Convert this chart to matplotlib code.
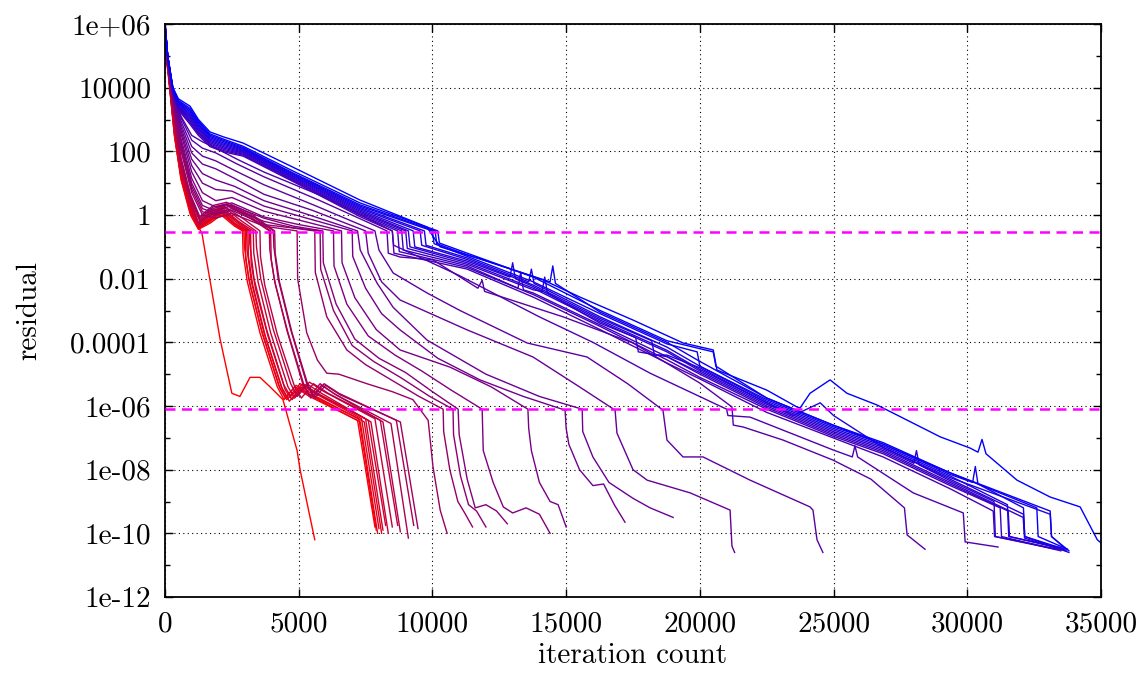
import numpy as np
import matplotlib.pyplot as plt
from matplotlib.ticker import FixedLocator, NullFormatter

plt.rcParams['font.family'] = 'cmr10'
plt.rcParams['axes.unicode_minus'] = False

# each run: (iteration, log10 residual) pairs
# ordered from the fastest (red) to the slowest (blue) run
run00 = [(0, 5.3), (120, 4.4), (370, 2.4), (600, 1.2), (1000, 0.0), (1380, -0.57), (2060, -3.9),
         (2500, -5.6), (2800, -5.7), (3180, -5.1), (3550, -5.1), (3930, -5.4), (4410, -5.8),
         (4940, -7.4), (5050, -8.0), (5600, -10.2)]

run01 = [(0, 5.3), (120, 4.5), (350, 2.5), (600, 1.1), (950, 0.0), (1250, -0.45), (1700, -0.25),
         (2100, 0.0), (2600, -0.35), (2900, -0.5), (2920, -1.2), (3080, -2.1), (3550, -3.7),
         (4200, -5.4), (4450, -5.8), (4850, -5.4), (5400, -5.7), (7200, -6.45), (7850, -9.8)]
run02 = [(0, 5.3), (120, 4.5), (350, 2.55), (600, 1.15), (950, 0.05), (1250, -0.43), (1700, -0.2),
         (2100, 0.05), (2600, -0.3), (2950, -0.5), (2970, -1.0), (3130, -2.0), (3600, -3.6),
         (4250, -5.35), (4500, -5.75), (4900, -5.35), (5450, -5.65), (7250, -6.4), (7900, -9.9)]
run03 = [(0, 5.3), (120, 4.52), (350, 2.6), (600, 1.2), (950, 0.1), (1250, -0.41), (1700, -0.18),
         (2100, 0.1), (2600, -0.3), (3000, -0.5), (3020, -1.4), (3180, -2.2), (3650, -3.75),
         (4300, -5.45), (4550, -5.8), (5000, -5.45), (5500, -5.7), (7300, -6.5), (7950, -10.0)]
run04 = [(0, 5.3), (120, 4.52), (350, 2.65), (600, 1.25), (950, 0.15), (1250, -0.39), (1700, -0.15),
         (2100, 0.12), (2600, -0.28), (3050, -0.5), (3070, -1.1), (3230, -2.1), (3700, -3.7),
         (4350, -5.4), (4600, -5.75), (5050, -5.3), (5600, -5.6), (7350, -6.4), (8000, -9.85)]
run05 = [(0, 5.3), (120, 4.54), (350, 2.7), (600, 1.3), (950, 0.2), (1250, -0.37), (1700, -0.12),
         (2100, 0.15), (2600, -0.25), (3100, -0.5), (3120, -1.3), (3280, -2.2), (3750, -3.8),
         (4400, -5.5), (4650, -5.85), (5100, -5.4), (5650, -5.7), (7450, -6.5), (8100, -10.0)]
run06 = [(0, 5.3), (120, 4.54), (350, 2.75), (600, 1.35), (950, 0.25), (1250, -0.35), (1700, -0.1),
         (2100, 0.18), (2650, -0.22), (3150, -0.5), (3170, -0.9), (3330, -2.0), (3800, -3.6),
         (4450, -5.35), (4700, -5.7), (5150, -5.3), (5700, -5.6), (7500, -6.4), (8150, -9.9)]
run07 = [(0, 5.3), (120, 4.56), (350, 2.8), (600, 1.4), (950, 0.3), (1250, -0.32), (1700, -0.05),
         (2100, 0.2), (2700, -0.2), (3200, -0.5), (3220, -1.5), (3380, -2.3), (3850, -3.8),
         (4500, -5.5), (4750, -5.8), (5200, -5.35), (5750, -5.65), (7600, -6.45), (8250, -9.75)]
run08 = [(0, 5.3), (120, 4.56), (350, 2.85), (600, 1.45), (950, 0.35), (1250, -0.3), (1700, 0.0),
         (2150, 0.22), (2750, -0.2), (3300, -0.5), (3320, -1.2), (3480, -2.1), (3950, -3.7),
         (4600, -5.4), (4850, -5.75), (5300, -5.3), (5850, -5.6), (7700, -6.5), (8350, -10.0)]
run09 = [(0, 5.3), (120, 4.58), (350, 2.9), (600, 1.5), (950, 0.4), (1250, -0.27), (1750, 0.05),
         (2200, 0.25), (2800, -0.15), (3400, -0.5), (3420, -1.0), (3580, -2.0), (4050, -3.6),
         (4700, -5.3), (4950, -5.7), (5400, -5.25), (5950, -5.55), (7850, -6.4), (8500, -9.8)]
run10 = [(0, 5.3), (120, 4.58), (350, 2.95), (600, 1.55), (950, 0.45), (1250, -0.24), (1750, 0.1),
         (2200, 0.28), (2900, -0.1), (3550, -0.5), (3570, -1.3), (3730, -2.2), (4200, -3.75),
         (4850, -5.4), (5100, -5.75), (5550, -5.3), (6100, -5.6), (8050, -6.45), (8700, -9.75)]
run11 = [(0, 5.3), (120, 4.6), (350, 3.0), (600, 1.6), (950, 0.5), (1300, -0.2), (1800, 0.15),
         (2300, 0.3), (3100, -0.05), (3900, -0.5), (3920, -1.1), (4080, -2.0), (4550, -3.6),
         (5150, -5.3), (5400, -5.7), (5800, -5.3), (6300, -5.6), (8150, -6.5), (8800, -9.95)]
run12 = [(0, 5.3), (120, 4.6), (350, 3.05), (600, 1.65), (950, 0.55), (1300, -0.15), (1800, 0.2),
         (2300, 0.32), (3100, 0.0), (3950, -0.5), (3970, -1.4), (4130, -2.2), (4600, -3.7),
         (5200, -5.35), (5450, -5.75), (5850, -5.35), (6400, -5.65), (8450, -6.55), (9100, -10.15)]
run13 = [(0, 5.3), (120, 4.62), (350, 3.1), (600, 1.7), (950, 0.6), (1300, -0.1), (1800, 0.25),
         (2300, 0.35), (3200, 0.0), (4050, -0.5), (4070, -1.0), (4230, -2.0), (4700, -3.6),
         (5300, -5.3), (5550, -5.7), (5950, -5.3), (6500, -5.6), (8650, -6.45), (9300, -9.75)]
run14 = [(0, 5.3), (120, 4.62), (350, 3.15), (600, 1.8), (950, 0.65), (1300, -0.05), (1800, 0.3),
         (2300, 0.4), (3200, 0.05), (4100, -0.5), (4120, -1.2), (4280, -2.1), (4750, -3.7),
         (5350, -5.35), (5600, -5.75), (6000, -5.35), (6550, -5.65), (8800, -6.5), (9460, -9.85)]

run15 = [(0, 5.35), (120, 4.64), (350, 3.2), (600, 2.0), (1000, 0.7), (1400, 0.0), (1900, -0.1),
         (2500, 0.05), (3700, -0.35), (4940, -0.5), (4960, -2.0), (5300, -3.7), (5700, -4.56),
         (6050, -4.97), (6500, -5.0), (7550, -5.3), (8500, -5.55), (9270, -5.8), (9840, -6.45),
         (10020, -7.9), (10290, -9.27), (10550, -10.0)]
run16 = [(0, 5.4), (120, 4.64), (350, 3.25), (600, 2.1), (1000, 0.8), (1400, 0.1), (1900, 0.0),
         (2500, 0.15), (3700, -0.3), (4700, -0.4), (5600, -0.5), (5620, -1.8), (6050, -3.2),
         (6800, -4.24), (7500, -4.7), (8500, -5.2), (9500, -5.7), (10400, -6.1), (10420, -6.8),
         (10650, -8.0), (10950, -9.0), (11200, -9.35), (11500, -9.8)]
run17 = [(0, 5.45), (120, 4.66), (350, 3.3), (600, 2.2), (1000, 0.9), (1400, 0.2), (1900, 0.05),
         (2500, 0.2), (3700, -0.2), (4800, -0.4), (5800, -0.5), (5820, -1.7), (6300, -3.0),
         (7000, -4.1), (7800, -4.6), (8800, -5.1), (9900, -5.7), (10770, -6.1), (10790, -6.9),
         (11050, -8.2), (11350, -9.1), (11650, -9.3), (12000, -9.8)]
run18 = [(0, 5.5), (120, 4.66), (350, 3.35), (600, 2.3), (1000, 1.0), (1400, 0.3), (1900, 0.12),
         (2500, 0.3), (3700, -0.1), (4800, -0.35), (5900, -0.5), (5920, -1.5), (6400, -2.8),
         (7100, -3.9), (8000, -4.5), (9000, -4.95), (10000, -5.55), (10960, -6.1), (11000, -6.9),
         (11300, -8.3), (11600, -9.2), (12000, -9.1), (12400, -9.3), (12800, -9.7)]
run19 = [(0, 5.55), (120, 4.68), (350, 3.4), (600, 2.4), (1000, 1.15), (1400, 0.45), (1900, 0.25),
         (2500, 0.38), (3700, -0.06), (5000, -0.3), (6300, -0.5), (6320, -1.6), (6800, -2.8),
         (7600, -3.8), (8600, -4.4), (9600, -4.9), (10700, -5.5), (11860, -6.1), (11900, -7.4),
         (12270, -8.4), (12650, -9.17), (13000, -9.36), (13500, -9.2), (14000, -9.4), (14400, -10.0)]
run20 = [(0, 5.6), (120, 4.68), (350, 3.45), (600, 2.55), (1000, 1.35), (1400, 0.7), (1900, 0.45),
         (2500, 0.55), (3700, 0.12), (5200, -0.2), (6600, -0.5), (6620, -1.5), (7100, -2.6),
         (7900, -3.6), (8790, -4.24), (10660, -4.78), (12200, -5.4), (13570, -6.1), (13600, -6.7),
         (13700, -7.4), (14000, -8.4), (14400, -9.0), (14700, -9.1), (15000, -9.8)]
run21 = [(0, 5.65), (120, 4.7), (350, 3.5), (600, 2.65), (1000, 1.55), (1400, 1.0), (1900, 0.8),
         (2500, 0.75), (3700, 0.28), (5300, -0.1), (7000, -0.5), (7020, -1.3), (7500, -2.3),
         (8100, -3.1), (8790, -3.61), (10200, -4.5), (11780, -5.18), (13400, -5.7), (14960, -6.13),
         (15000, -6.7), (15100, -7.2), (15500, -8.0), (16000, -8.5), (16400, -8.45), (16800, -9.1),
         (17200, -9.65)]
run22 = [(0, 5.7), (120, 4.72), (350, 3.55), (600, 2.75), (1000, 1.75), (1400, 1.3), (1900, 1.1),
         (2600, 0.9), (3700, 0.45), (5400, 0.0), (7200, -0.5), (7300, -1.1), (7930, -2.14),
         (8530, -2.9), (9800, -3.93), (12000, -5.0), (14000, -5.7), (15600, -6.1), (15620, -6.8),
         (16000, -7.6), (16600, -8.4), (17500, -8.9), (18140, -9.2), (19000, -9.5)]
run23 = [(0, 5.75), (120, 4.74), (350, 3.6), (600, 2.85), (1000, 1.95), (1400, 1.6), (1900, 1.45),
         (2600, 1.15), (3700, 0.65), (5500, 0.15), (7500, -0.5), (7600, -1.2), (8100, -2.1),
         (8790, -2.67), (11300, -3.61), (13760, -4.46), (15500, -5.4), (16830, -6.13), (16900, -6.85),
         (17500, -8.0), (18030, -8.33), (19640, -8.73), (21130, -9.27), (21200, -10.4), (21300, -10.6)]
run24 = [(0, 5.8), (120, 4.76), (350, 3.65), (600, 2.95), (1000, 2.15), (1400, 1.85), (1900, 1.7),
         (2600, 1.4), (3700, 0.95), (5600, 0.3), (7850, -0.5), (8000, -1.1), (8530, -1.82),
         (9800, -2.45), (11030, -3.0), (13540, -4.02), (15780, -4.46), (17300, -5.3), (18620, -6.13),
         (18770, -7.07), (19370, -7.6), (20120, -7.6), (21880, -8.33), (24120, -9.17), (24230, -9.27),
         (24380, -10.2), (24600, -10.6)]
run25 = [(0, 5.85), (120, 4.78), (350, 3.7), (600, 3.05), (1000, 2.35), (1400, 2.1), (1900, 1.95),
         (2700, 1.6), (3700, 1.2), (5800, 0.45), (8300, -0.5), (8350, -1.2), (8790, -1.32),
         (10020, -1.41), (11700, -2.3), (11860, -2.05), (11950, -2.4), (14890, -3.2), (17500, -4.02),
         (20000, -5.28), (21200, -6.03), (21250, -6.6), (21620, -6.66), (23110, -7.07), (24980, -7.7),
         (26400, -8.3), (27650, -9.2), (27750, -10.05), (28420, -10.5)]
run26 = [(0, 5.9), (120, 4.8), (350, 3.72), (600, 3.1), (1000, 2.5), (1400, 2.3), (1900, 2.1),
         (2700, 1.75), (3700, 1.35), (6000, 0.55), (8500, -0.5), (8550, -0.95), (11000, -1.9),
         (14000, -3.2), (16000, -4.0), (18140, -4.97), (21000, -6.1), (21050, -6.3), (21880, -6.35),
         (24980, -7.38), (25700, -7.6), (25800, -7.25), (25900, -7.6), (27980, -8.73), (29850, -9.36),
         (29920, -10.27), (31150, -10.43)]

run27 = [(0, 6.0), (100, 5.0), (300, 3.8), (500, 3.3), (935, 2.85), (1250, 2.5), (1680, 2.15),
         (2200, 1.98), (2920, 1.85), (4790, 1.05), (7290, -0.05), (8500, -0.5), (8560, -1.2),
         (11300, -1.7), (13770, -2.58), (16270, -3.6), (18770, -4.65), (20000, -5.15), (22500, -6.2),
         (24980, -7.0), (26850, -7.6), (29360, -8.6), (30970, -9.3), (31020, -10.1), (33300, -10.5)]
run28 = [(0, 6.0), (100, 5.0), (300, 3.82), (500, 3.33), (935, 2.9), (1250, 2.55), (1680, 2.19),
         (2200, 2.02), (2920, 1.88), (4790, 1.08), (7290, 0.0), (8700, -0.5), (8760, -1.15),
         (11300, -1.65), (13770, -2.5), (16270, -3.5), (18770, -4.55), (20000, -5.1), (22500, -6.1),
         (24980, -6.95), (26850, -7.5), (29360, -8.5), (31230, -9.2), (31280, -10.1), (33500, -10.55)]
run29 = [(0, 6.0), (100, 5.0), (300, 3.84), (500, 3.36), (935, 2.95), (1250, 2.59), (1680, 2.23),
         (2200, 2.06), (2920, 1.91), (4790, 1.11), (7290, 0.04), (8850, -0.5), (8910, -1.1),
         (11300, -1.6), (13200, -2.3), (13300, -1.8), (13400, -2.35), (13770, -2.45), (16270, -3.45),
         (18770, -4.45), (20000, -5.0), (22500, -6.05), (24980, -6.9), (26850, -7.45), (29360, -8.45),
         (31530, -9.3), (31580, -10.1), (33600, -10.5)]
run30 = [(0, 6.0), (100, 5.0), (300, 3.86), (500, 3.39), (935, 3.0), (1250, 2.64), (1680, 2.27),
         (2200, 2.1), (2920, 1.94), (4790, 1.14), (7290, 0.08), (9000, -0.5), (9060, -1.05),
         (11300, -1.55), (13770, -2.35), (14100, -2.4), (14200, -1.95), (14300, -2.45), (16270, -3.4),
         (17600, -3.85), (17700, -4.3), (18770, -4.45), (20000, -4.95), (22500, -6.0), (24980, -6.85),
         (26850, -7.4), (29360, -8.4), (32090, -9.5), (32140, -10.15), (33700, -10.55)]
run31 = [(0, 6.0), (100, 5.0), (300, 3.88), (500, 3.42), (935, 3.05), (1250, 2.68), (1680, 2.31),
         (2200, 2.14), (2920, 1.97), (4790, 1.17), (7290, 0.12), (9100, -0.5), (9160, -1.0),
         (11300, -1.5), (13770, -2.3), (16270, -3.35), (18770, -4.3), (20000, -4.9), (22500, -5.95),
         (24980, -6.8), (26850, -7.35), (28000, -7.8), (28100, -7.4), (28200, -7.85), (29360, -8.35),
         (31000, -9.0), (31050, -10.1), (33400, -10.5)]
run32 = [(0, 6.0), (100, 5.0), (300, 3.9), (500, 3.45), (935, 3.1), (1250, 2.73), (1680, 2.35),
         (2200, 2.18), (2920, 2.0), (4790, 1.2), (7290, 0.16), (9280, -0.5), (9340, -1.0),
         (11300, -1.45), (12900, -1.95), (13000, -1.5), (13100, -2.0), (13770, -2.25), (16270, -3.3),
         (18770, -4.25), (20000, -4.85), (22500, -5.9), (24980, -6.75), (26850, -7.3), (29360, -8.3),
         (32100, -9.4), (32150, -10.1), (33800, -10.6)]
run33 = [(0, 6.0), (100, 5.0), (300, 3.91), (500, 3.48), (935, 3.15), (1250, 2.77), (1680, 2.39),
         (2200, 2.22), (2920, 2.03), (4790, 1.23), (7290, 0.2), (9540, -0.5), (9600, -0.95),
         (11300, -1.4), (13770, -2.2), (16270, -3.25), (18200, -3.95), (18300, -4.4), (18770, -4.4),
         (20000, -4.8), (22500, -5.9), (23500, -6.3), (24500, -5.9), (25000, -6.3), (26850, -7.3),
         (29360, -8.25), (33100, -9.4), (33150, -10.1), (33700, -10.5)]
run34 = [(0, 6.0), (100, 5.0), (300, 3.92), (500, 3.51), (935, 3.2), (1250, 2.82), (1680, 2.43),
         (2200, 2.26), (2920, 2.06), (4790, 1.26), (7290, 0.24), (9700, -0.5), (9760, -0.95),
         (11300, -1.35), (13600, -2.1), (13700, -1.7), (13800, -2.15), (16270, -3.2), (18770, -4.15),
         (20000, -4.75), (22500, -5.85), (24980, -6.7), (26850, -7.25), (29360, -8.2), (31500, -9.1),
         (31550, -10.1), (33500, -10.45)]
run35 = [(0, 6.0), (100, 5.0), (300, 3.93), (500, 3.54), (935, 3.25), (1250, 2.86), (1680, 2.47),
         (2200, 2.3), (2920, 2.09), (4790, 1.29), (7290, 0.28), (10000, -0.5), (10060, -0.9),
         (11300, -1.3), (13770, -2.1), (16270, -3.1), (18770, -4.05), (19900, -4.3), (20000, -4.75),
         (22500, -5.8), (24980, -6.65), (26850, -7.2), (29360, -8.15), (30200, -8.4), (30300, -7.9),
         (30400, -8.45), (32100, -9.2), (32150, -10.1), (33650, -10.5)]
run36 = [(0, 6.0), (100, 5.0), (300, 3.94), (500, 3.57), (935, 3.3), (1250, 2.91), (1680, 2.51),
         (2200, 2.34), (2920, 2.12), (4790, 1.32), (7290, 0.32), (10100, -0.5), (10160, -0.9),
         (11300, -1.25), (14400, -2.1), (14500, -1.6), (14600, -2.15), (16270, -3.05), (18770, -4.0),
         (20000, -4.6), (22500, -5.75), (24980, -6.6), (26850, -7.2), (29360, -8.1), (33100, -9.3),
         (33150, -10.1), (33800, -10.55)]
run37 = [(0, 6.0), (100, 5.0), (300, 3.95), (500, 3.6), (935, 3.35), (1250, 2.95), (1680, 2.55),
         (2200, 2.38), (2920, 2.16), (4790, 1.38), (7290, 0.38), (10200, -0.5), (10260, -0.88),
         (11300, -1.2), (13770, -1.95), (16270, -3.0), (18770, -3.95), (20500, -4.3), (20600, -4.75),
         (22500, -5.75), (24980, -6.6), (26850, -7.15), (29360, -8.1), (32600, -9.2), (32650, -10.1),
         (33750, -10.5)]
run38 = [(0, 6.0), (100, 5.0), (300, 4.0), (500, 3.65), (935, 3.42), (1250, 3.0), (1680, 2.61),
         (2200, 2.45), (2920, 2.26), (4790, 1.5), (7290, 0.47), (9800, -0.38), (9910, -0.53),
         (10290, -1.0), (11900, -1.41), (14140, -2.04), (15520, -2.58), (17500, -3.3), (19370, -4.02),
         (20500, -4.24), (20640, -4.87), (22500, -5.5), (23630, -6.03), (23750, -6.06), (24120, -5.6),
         (24870, -5.18), (25500, -5.6), (26630, -5.97), (28990, -6.97), (30100, -7.32), (30400, -7.45),
         (30550, -7.05), (30700, -7.5), (31860, -8.33), (33100, -8.86), (34220, -9.17), (34860, -10.2),
         (35000, -10.3)]

runs = [run00, run01, run02, run03, run04, run05, run06, run07, run08, run09,
        run10, run11, run12, run13, run14, run15, run16, run17, run18, run19,
        run20, run21, run22, run23, run24, run25, run26, run27, run28, run29,
        run30, run31, run32, run33, run34, run35, run36, run37, run38]

tol_levels = [3e-1, 8e-7]

xticks = [0, 5000, 10000, 15000, 20000, 25000, 30000, 35000]
yticks = [1e-12, 1e-10, 1e-8, 1e-6, 1e-4, 1e-2, 1, 100, 1e4, 1e6]
ytick_labels = ['1e-12', '1e-10', '1e-08', '1e-06', '0.0001', '0.01', '1', '100', '10000', '1e+06']
yminor = [1e-11, 1e-9, 1e-7, 1e-5, 1e-3, 1e-1, 10, 1e3, 1e5]

fig = plt.figure(figsize=(11.48, 6.73), dpi=100)
ax = fig.add_axes([165 / 1148, 1 - 597 / 673, (1101 - 165) / 1148, (597 - 24) / 673])

n = len(runs)
for i, run in enumerate(runs):
    t = i / (n - 1)
    it = np.array([p[0] for p in run])
    res = 10.0 ** np.array([p[1] for p in run])
    ax.plot(it, res, color=(1 - t, 0, t), lw=1.0, zorder=2)

for lvl in tol_levels:
    ax.axhline(lvl, color='#ff00ff', lw=1.8, ls=(0, (4, 2.6)), zorder=4)

ax.set_yscale('log')
ax.set_xlim(0, 35000)
ax.set_ylim(1e-12, 1e6)
ax.set_xticks(xticks)
ax.set_xticklabels([str(v) for v in xticks])
ax.set_yticks(yticks)
ax.set_yticklabels(ytick_labels)
ax.yaxis.set_minor_locator(FixedLocator(yminor))
ax.yaxis.set_minor_formatter(NullFormatter())
ax.xaxis.set_minor_locator(FixedLocator([]))

ax.grid(True, which='major', color='black', ls=(0, (1, 3)), lw=0.8)
ax.tick_params(which='major', direction='in', top=True, right=True, length=6, width=1.0,
               labelsize=21, pad=10)
ax.tick_params(which='minor', direction='in', top=True, right=True, length=3.5, width=1.0)
for s in ax.spines.values():
    s.set_linewidth(1.3)

ax.set_xlabel('iteration count', fontsize=21, labelpad=4)
ax.set_ylabel('residual', fontsize=21, labelpad=20)

fig.savefig('out.png', dpi=100)
